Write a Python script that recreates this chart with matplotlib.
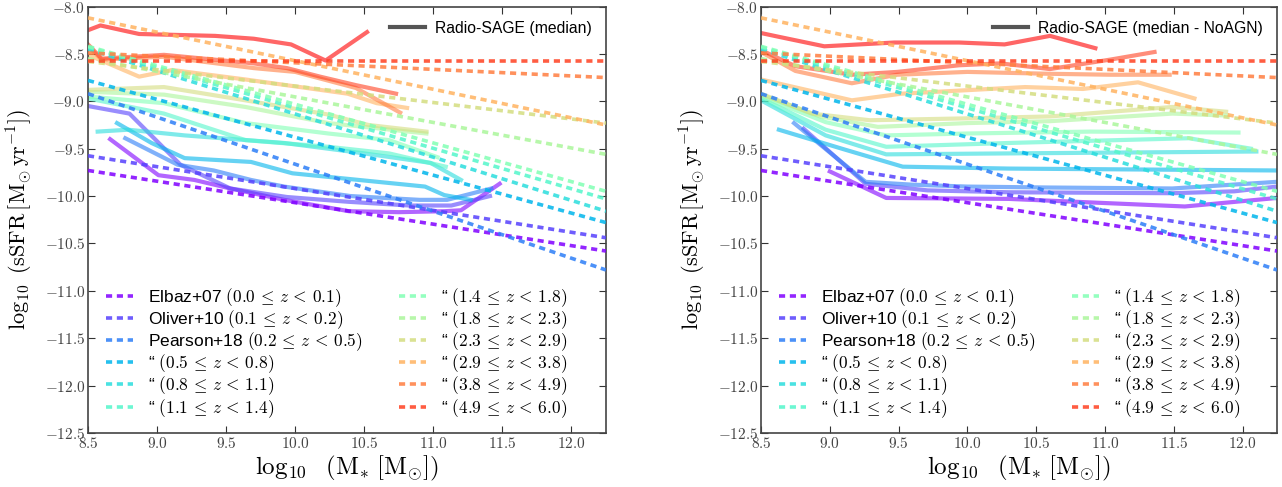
import numpy as np
import matplotlib
matplotlib.use("Agg")
import matplotlib.pyplot as plt
from matplotlib.ticker import FuncFormatter, MultipleLocator
from matplotlib.lines import Line2D

plt.rcParams['mathtext.fontset'] = 'cm'
plt.rcParams['font.family'] = ['Liberation Sans', 'DejaVu Sans']

# ---------------- data ----------------
z_labels = [
    r'Elbaz+07 $(0.0\,\leq\,z\,<\,0.1)$',
    r'Oliver+10 $(0.1\,\leq\,z\,<\,0.2)$',
    r'Pearson+18 $(0.2\,\leq\,z\,<\,0.5)$',
    r'“ $(0.5\,\leq\,z\,<\,0.8)$',
    r'“ $(0.8\,\leq\,z\,<\,1.1)$',
    r'“ $(1.1\,\leq\,z\,<\,1.4)$',
    r'“ $(1.4\,\leq\,z\,<\,1.8)$',
    r'“ $(1.8\,\leq\,z\,<\,2.3)$',
    r'“ $(2.3\,\leq\,z\,<\,2.9)$',
    r'“ $(2.9\,\leq\,z\,<\,3.8)$',
    r'“ $(3.8\,\leq\,z\,<\,4.9)$',
    r'“ $(4.9\,\leq\,z\,<\,6.0)$',
]

# observed relations: value at log M = 8.5 and 12.25
obs_mass = [8.5, 12.25]
obs_ssfr = [
    [-9.73, -10.58],
    [-9.575, -10.44],
    [-8.92, -10.78],
    [-8.78, -10.28],
    [-8.45, -10.16],
    [-8.43, -10.03],
    [-8.42, -9.95],
    [-8.55, -9.56],
    [-8.58, -9.23],
    [-8.12, -9.25],
    [-8.49, -8.75],
    [-8.57, -8.57],
]

# Radio-SAGE medians (left: full model)
left_mass = [
    [8.66, 9.01, 9.27, 9.53, 9.92, 10.39, 10.75, 11.08, 11.2, 11.48],
    [8.5, 8.80, 9.17, 9.53, 9.94, 10.38, 10.83, 11.13, 11.41],
    [8.77, 9.15, 9.41, 9.68, 9.92, 10.4, 10.9, 11.1, 11.42],
    [8.71, 8.96, 9.20, 9.68, 9.98, 10.46, 10.94, 11.08, 11.27],
    [8.57, 8.79, 9.20, 9.92, 10.5, 10.98, 11.2],
    [8.5, 9.05, 9.64, 10.24, 10.68, 11.09],
    [8.5, 9.05, 9.64, 10.24, 10.68, 11.03],
    [8.5, 9.05, 9.64, 10.24, 10.95],
    [8.5, 9.05, 9.64, 10.24, 10.53, 10.95],
    [8.5, 8.87, 9.11, 9.64, 10.38, 10.59, 10.81],
    [8.5, 8.6, 9.05, 9.7, 10.0, 10.44, 10.76],
    [8.5, 8.6, 9.05, 9.7, 9.94, 10.18, 10.44, 10.73],
    [8.5, 8.59, 8.87, 9.42, 9.70, 9.97, 10.22, 10.52],
]
left_ssfr = [
    [-9.40, -9.78, -9.83, -9.92, -10.04, -10.16, -10.17, -10.16, -10.15, -9.87],
    [-9.05, -9.13, -9.67, -9.92, -10.01, -10.06, -10.10, -10.10, -10.0],
    [-9.39, -9.67, -9.73, -9.83, -9.90, -10.0, -10.04, -10.04, -9.92],
    [-9.23, -9.44, -9.60, -9.64, -9.76, -9.83, -9.90, -9.99, -10.04],
    [-9.32, -9.30, -9.36, -9.44, -9.55, -9.65, -9.83],
    [-8.97, -9.13, -9.41, -9.48, -9.55, -9.69],
    [-8.95, -9.02, -9.23, -9.34, -9.41, -9.59],
    [-8.90, -8.93, -9.06, -9.23, -9.34],
    [-8.88, -8.85, -8.99, -9.14, -9.25, -9.32],
    [-8.51, -8.74, -8.67, -8.77, -8.92, -9.02, -9.07],
    [-8.42, -8.56, -8.53, -8.65, -8.69, -8.86, -9.12],
    [-8.40, -8.55, -8.51, -8.60, -8.65, -8.74, -8.83, -8.92],
    [-8.25, -8.20, -8.29, -8.31, -8.34, -8.40, -8.57, -8.27],
]

# Radio-SAGE medians (right: NoAGN)
right_mass = [
    [9.0, 9.41, 10.30, 11.58, 12.25],
    [8.81, 9.26, 9.71, 10.30, 11.49, 11.94, 12.25],
    [8.74, 9.26, 9.6, 10.0, 10.6, 11.49, 12.25],
    [8.63, 9.11, 9.53, 10.30, 12.25],
    [8.5, 8.97, 9.41, 10.30, 12.10],
    [8.5, 8.97, 9.41, 10.30, 11.61, 12.06],
    [8.5, 8.97, 9.41, 10.0, 10.89, 11.97],
    [8.5, 8.93, 9.35, 10.0, 10.6, 11.49, 11.88],
    [8.5, 8.87, 9.29, 10.0, 10.6, 11.49, 11.88],
    [8.5, 9.16, 9.52, 10.42, 10.84, 11.24, 11.65],
    [8.5, 8.75, 9.16, 9.49, 10.0, 10.6, 11.04, 11.47],
    [8.5, 8.75, 9.16, 9.49, 9.94, 10.24, 10.60, 11.04, 11.36],
    [8.5, 8.63, 8.96, 9.47, 9.94, 10.27, 10.60, 10.93],
]
right_ssfr = [
    [-9.74, -10.02, -10.03, -10.11, -10.02],
    [-9.29, -9.87, -9.94, -9.96, -9.97, -9.95, -9.90],
    [-9.23, -9.85, -9.88, -9.90, -9.91, -9.92, -9.85],
    [-9.30, -9.51, -9.69, -9.71, -9.73],
    [-8.99, -9.36, -9.56, -9.55, -9.53],
    [-8.97, -9.30, -9.48, -9.44, -9.39, -9.50],
    [-8.95, -9.22, -9.36, -9.34, -9.32, -9.33],
    [-8.93, -9.16, -9.27, -9.23, -9.21, -9.13, -9.15],
    [-8.92, -9.13, -9.20, -9.18, -9.16, -9.06, -9.11],
    [-8.77, -8.99, -8.92, -8.85, -8.87, -8.80, -8.97],
    [-8.48, -8.68, -8.81, -8.72, -8.69, -8.71, -8.72, -8.72],
    [-8.46, -8.63, -8.72, -8.69, -8.62, -8.60, -8.66, -8.56, -8.48],
    [-8.28, -8.32, -8.42, -8.38, -8.38, -8.40, -8.31, -8.44],
]

model_labels = ['Radio-SAGE (median)', 'Radio-SAGE (median - NoAGN)']

# ---------------- plot ----------------
W, H = 1282, 487
fig = plt.figure(figsize=(W / 100, H / 100), dpi=100)
ax_rects = [
    [88 / W, 1 - 433 / H, 518 / W, 426.5 / H],
    [761 / W, 1 - 433 / H, 516 / W, 426.5 / H],
]
cmap = plt.get_cmap('rainbow')

for k, (mass, ssfr, mlabel) in enumerate([(left_mass, left_ssfr, model_labels[0]),
                                           (right_mass, right_ssfr, model_labels[1])]):
    ax = fig.add_axes(ax_rects[k])
    for i, (mx, sy) in enumerate(zip(mass, ssfr)):
        ax.plot(mx, sy, '-', color=cmap(i / 12), lw=3.0, alpha=0.6, zorder=2)
    handles = []
    for i, (vals, lab) in enumerate(zip(obs_ssfr, z_labels)):
        h, = ax.plot(obs_mass, vals, '--', color=cmap(i / 12), lw=2.6, alpha=0.85,
                     dashes=(1.7, 1.3), label=lab, zorder=3)
        handles.append(h)
    ax.set_xlim(8.5, 12.25)
    ax.set_ylim(-12.5, -8.0)
    ax.xaxis.set_major_locator(MultipleLocator(0.5))
    ax.yaxis.set_major_locator(MultipleLocator(0.5))
    fmt = FuncFormatter(lambda v, p: r'$%.1f$' % v)
    ax.xaxis.set_major_formatter(fmt)
    ax.yaxis.set_major_formatter(fmt)
    ax.tick_params(direction='in', top=True, right=True, length=5, width=0.8,
                   labelsize=11, colors='#333333', labelcolor='#444444', pad=2)
    for sp in ax.spines.values():
        sp.set_color('#444444')
        sp.set_linewidth(1.2)
    ax.set_xlabel(r'$\log_{10}\ \ (\mathrm{M}_{*}\ [\mathrm{M}_{\odot}])$', fontsize=18, labelpad=2)
    ax.set_ylabel(r'$\log_{10}\ (\mathrm{sSFR}\,[\mathrm{M}_{\odot}\,\mathrm{yr}^{-1}])$',
                  fontsize=16, labelpad=7)

    leg1 = ax.legend(handles=handles, ncol=2, loc='lower left', frameon=False,
                     fontsize=12.5, handlelength=1.55, handletextpad=0.85,
                     columnspacing=2.1, labelspacing=-0.03,
                     bbox_to_anchor=(0.005, -0.005))
    ax.add_artist(leg1)
    gh = Line2D([0], [0], color='#555555', lw=3)
    ax.legend(handles=[gh], labels=[mlabel], loc='upper right', frameon=False,
              fontsize=11.3, handlelength=2.2, handletextpad=0.65,
              bbox_to_anchor=(1.0, 1.0))

fig.savefig('out.png', dpi=100)
